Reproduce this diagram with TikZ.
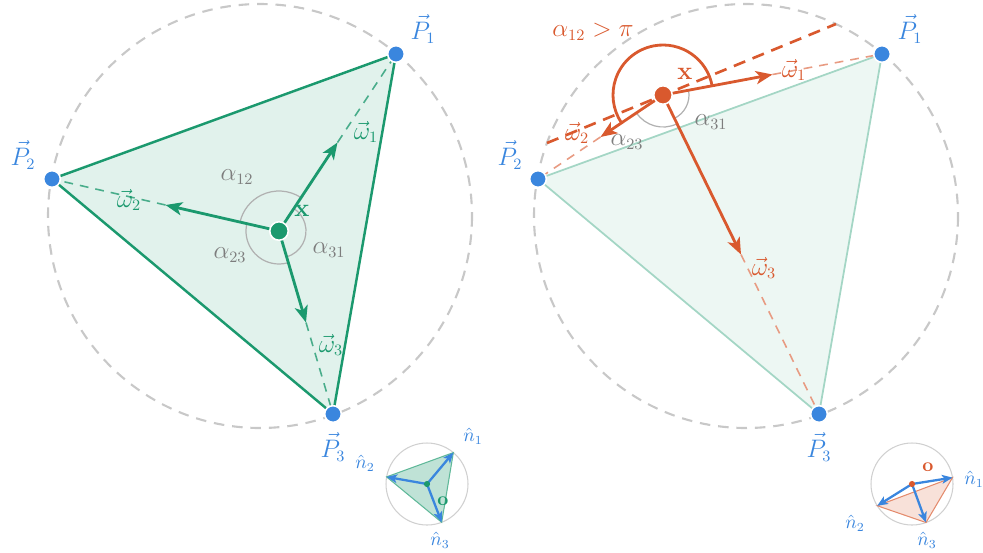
\documentclass[tikz,border=0pt]{standalone}
\usetikzlibrary{arrows.meta, calc}
\definecolor{wgreen}{RGB}{27,153,110}
\definecolor{worange}{RGB}{217,89,46}
\definecolor{pblue}{RGB}{58,134,222}
\definecolor{cgray}{RGB}{200,200,200}
\definecolor{agray}{RGB}{125,125,125}

\begin{document}
\begin{tikzpicture}[x=0.02cm, y=-0.02cm,
                lbl/.style={font=\fontsize{13.5}{16}\selectfont, inner sep=1pt},
                nlbl/.style={font=\fontsize{10.5}{12}\selectfont, text=pblue},
                ptdot/.style={circle, fill=pblue, draw=white, line width=0.9pt,
                    minimum size=9.5pt, inner sep=0pt},
                xdot/.style={circle, draw=white, line width=0.9pt,
                    minimum size=10.5pt, inner sep=0pt},
                odot/.style={circle, inner sep=0pt, minimum size=3.5pt},
                rim/.style={draw=cgray, line width=1.2pt, dash pattern=on 6pt off 4.5pt},
                guide/.style={line width=0.9pt, dash pattern=on 5pt off 4pt},
                anglearc/.style={draw=agray!60, line width=0.7pt},
                warrow/.style={line width=1.6pt,
                    -{Stealth[length=9.5pt, width=7.5pt, inset=2.5pt]}},
                narrow/.style={draw=pblue, line width=1.3pt,
                    -{Stealth[length=6pt, width=5pt, inset=1.5pt]}}
            ]
                \useasboundingbox (0,0) rectangle (983,552);

                % left: x inside the triangle
                \coordinate (C) at (260,216);
                \coordinate (P1) at (396,54);
                \coordinate (P2) at (52,179);
                \coordinate (P3) at (333,414);
                \coordinate (X) at (279,231);
                \foreach \i in {1,2,3}
                    \coordinate (m\i) at ($(X)!0.5!(P\i)$);

                \draw[rim] (C) circle (212);
                \filldraw[fill=wgreen!13, draw=wgreen, line width=1.4pt, line join=round]
                    (P1) -- (P2) -- (P3) -- cycle;
                \foreach \i in {1,2,3}
                    \draw[guide, wgreen!80] (m\i) -- (P\i);
                \draw[anglearc] ($(X)+(-56.5:40)$) arc[start angle=-56.5, end angle=-167.1, radius=40];
                \draw[anglearc] ($(X)+(192.9:33)$) arc[start angle=192.9, end angle=73.6, radius=33];
                \draw[anglearc] ($(X)+(73.6:27)$) arc[start angle=73.6, end angle=-56.5, radius=27];
                \foreach \i in {1,2,3}
                    \draw[warrow, wgreen] (X) -- (m\i);
                \node[xdot, fill=wgreen] (x) at (X) {};
                \foreach \i in {1,2,3}
                    \node[ptdot] (p\i) at (P\i) {};

                \node[lbl, text=pblue] (lp1) at (423,29) {$\vec{P}_1$};
                \node[lbl, text=pblue] (lp2) at (23,155) {$\vec{P}_2$};
                \node[lbl, text=pblue] (lp3) at (333,447) {$\vec{P}_3$};
                \node[lbl, text=wgreen] (lw1) at (366,132) {$\vec{\omega}_1$};
                \node[lbl, text=wgreen] (lw2) at (129,200) {$\vec{\omega}_2$};
                \node[lbl, text=wgreen] (lw3) at (331,345) {$\vec{\omega}_3$};
                \node[lbl, text=wgreen] (lx) at (302,211) {$\mathbf{x}$};
                \node[lbl, text=agray] (la12) at (237,177) {$\alpha_{12}$};
                \node[lbl, text=agray] (la23) at (230,255) {$\alpha_{23}$};
                \node[lbl, text=agray] (la31) at (329,250) {$\alpha_{31}$};

                % left inset
                \coordinate (o) at (427,484);
                \foreach \i/\a in {1/-50, 2/190, 3/69}
                    \coordinate (n\i) at ($(o)+(\a:41)$);
                \draw[cgray!85, line width=0.6pt] (o) circle (41);
                \filldraw[fill=wgreen!28, draw=wgreen!70, line width=0.6pt]
                    (n1) -- (n2) -- (n3) -- cycle;
                \foreach \i in {1,2,3}
                    \draw[narrow] (o) -- (n\i);
                \node[odot, fill=wgreen] (od) at (o) {};
                \node[nlbl] (ln1) at (473,436) {$\hat{n}_1$};
                \node[nlbl] (ln2) at (365,463) {$\hat{n}_2$};
                \node[nlbl] (ln3) at (440,540) {$\hat{n}_3$};
                \node[nlbl, text=wgreen] (lo) at (443,501) {$\mathbf{o}$};

                % right: x outside the triangle
                \coordinate (Cr) at (746,216);
                \coordinate (Q1) at (882,54);
                \coordinate (Q2) at (538,179);
                \coordinate (Q3) at (819,414);
                \coordinate (Y) at (663,95);
                \coordinate (c1) at (547,143);
                \coordinate (c2) at (836,24);
                \foreach \i in {1,2,3}
                    \coordinate (k\i) at ($(Y)!0.5!(Q\i)$);

                \draw[rim] (Cr) circle (212);
                \filldraw[fill=wgreen!8, draw=wgreen!40, line width=1pt, line join=round]
                    (Q1) -- (Q2) -- (Q3) -- cycle;
                \foreach \i in {1,2,3}
                    \draw[guide, worange!60] (k\i) -- (Q\i);
                \draw[worange, line width=1.5pt, dash pattern=on 7pt off 4.5pt] (c1) -- (c2);
                \draw[anglearc] ($(Y)+(64.2:26)$) arc[start angle=64.2, end angle=-10.6, radius=26];
                \draw[anglearc] ($(Y)+(146.3:32)$) arc[start angle=146.3, end angle=64.2, radius=32];
                \draw[worange, line width=1.6pt] ($(Y)+(-10.6:50)$)
                    arc[start angle=-10.6, end angle=-213.7, radius=50];
                \foreach \i in {1,2,3}
                    \draw[warrow, worange] (Y) -- (k\i);
                \node[xdot, fill=worange] (y) at (Y) {};
                \foreach \i in {1,2,3}
                    \node[ptdot] (q\i) at (Q\i) {};

                \node[lbl, text=pblue] (lq1) at (910,29) {$\vec{P}_1$};
                \node[lbl, text=pblue] (lq2) at (510,155) {$\vec{P}_2$};
                \node[lbl, text=pblue] (lq3) at (819,447) {$\vec{P}_3$};
                \node[lbl, text=worange] (lv1) at (794,70) {$\vec{\omega}_1$};
                \node[lbl, text=worange] (lv2) at (577,133) {$\vec{\omega}_2$};
                \node[lbl, text=worange] (lv3) at (764,268) {$\vec{\omega}_3$};
                \node[lbl, text=worange] (ly) at (685,74) {$\mathbf{x}$};
                \node[lbl, text=worange] (lb12) at (593,32) {$\alpha_{12} > \pi$};
                \node[lbl, text=agray] (lb23) at (627,142) {$\alpha_{23}$};
                \node[lbl, text=agray] (lb31) at (711,122) {$\alpha_{31}$};

                % right inset
                \coordinate (or) at (912,484);
                \foreach \i/\a in {1/-9, 2/148, 3/70}
                    \coordinate (r\i) at ($(or)+(\a:41)$);
                \draw[cgray!85, line width=0.6pt] (or) circle (41);
                \filldraw[fill=worange!18, draw=worange!70, line width=0.6pt]
                    (r1) -- (r2) -- (r3) -- cycle;
                \foreach \i in {1,2,3}
                    \draw[narrow] (or) -- (r\i);
                \node[odot, fill=worange] (ord) at (or) {};
                \node[nlbl] (lr1) at (974,479) {$\hat{n}_1$};
                \node[nlbl] (lr2) at (855,523) {$\hat{n}_2$};
                \node[nlbl] (lr3) at (927,540) {$\hat{n}_3$};
                \node[nlbl, text=worange] (lro) at (928,467) {$\mathbf{o}$};

            \end{tikzpicture}
\end{document}
